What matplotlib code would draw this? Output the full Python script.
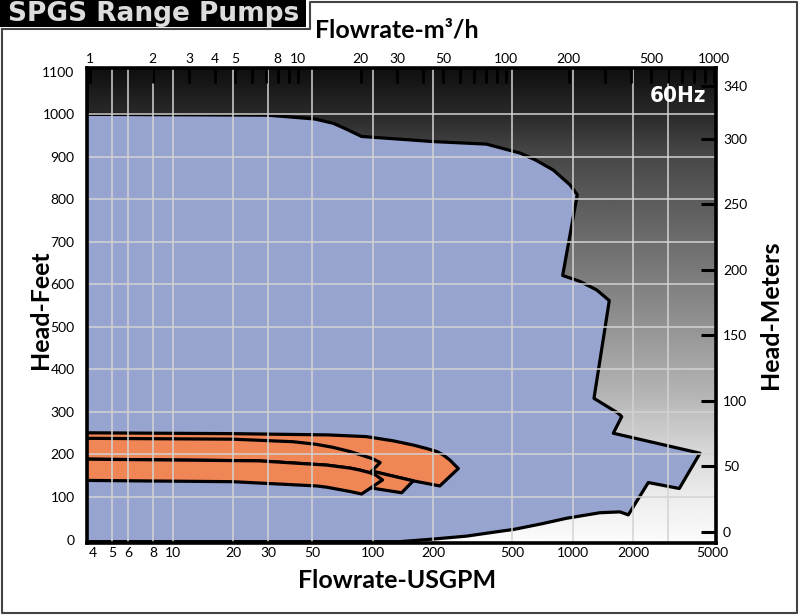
import numpy as np
import matplotlib
matplotlib.use("Agg")
import matplotlib.pyplot as plt
from matplotlib.patches import Polygon, Rectangle
from matplotlib.lines import Line2D

# ---- data (flow in USGPM, head in feet) ----
# operating envelope of the range
range_gpm = [3.7, 30, 51.5, 63.5, 74, 88, 200, 370, 545, 650, 800, 970, 1054,
             891, 1088, 1318, 1524, 1278, 1690, 1758, 1596, 4330, 3412, 2388,
             1897, 1723, 1369, 933, 700, 511, 400, 295, 200, 137, 3.7]
range_ft = [1000, 998, 989, 979, 965, 948, 936, 930, 909, 893, 869, 834, 811,
            621, 607, 587, 562, 332, 297, 289, 250, 203, 120, 134,
            58, 65, 63, 50, 37, 24, 17, 8, 1, -5, -5]

# orange model bands: outline as top edge (left->right) then bottom edge (right->left)
band_a_gpm = [3.7, 20, 60, 93, 127, 160, 186, 209, 225, 243, 268,
              216.6, 159.5, 100.7, 60, 20, 3.7]
band_a_ft = [251, 249, 246, 242, 232, 222, 214, 207, 199, 187, 167,
             126, 138, 160, 175, 185, 190]

band_b_gpm = [3.7, 20, 60, 100.7, 159.5, 139.6, 100.7, 80, 40, 3.7]
band_b_ft = [190, 185, 175, 160, 138, 110, 120.5, 128, 140, 148]

band_c_gpm = [3.7, 20, 40, 52, 63, 77, 90, 100, 109,
              97, 86, 77, 59, 27, 3.7]
band_c_ft = [238, 236, 230, 224, 217, 207, 197, 190, 181,
             157, 163.5, 168, 175, 185, 189]

band_d_gpm = [3.7, 27, 59, 77, 86, 97, 104, 112,
              88, 77, 59, 52.5, 20, 3.7]
band_d_ft = [189, 185, 175, 168, 163.5, 157, 151, 140,
             107, 113, 123, 126, 136, 139]

# axes ticks
gpm_ticks = [4, 5, 6, 8, 10, 20, 30, 50, 100, 200, 500, 1000, 2000, 5000]
gpm_grid = [5, 6, 8, 10, 20, 30, 50, 100, 200, 500, 1000, 2000, 3000]
m3h_ticks = [1, 2, 3, 4, 5, 8, 10, 20, 30, 50, 100, 200, 500, 1000]
ft_ticks = [0, 100, 200, 300, 400, 500, 600, 700, 800, 900, 1000, 1100]
ft_grid = [100, 200, 300, 400, 500, 600, 700, 800, 900, 1000]
m_ticks = [0, 50, 100, 150, 200, 250, 300, 340]

BLUE = "#97a4cf"
ORANGE = "#f08556"
FONT = "Lato"

W, H = 800, 616
fig = plt.figure(figsize=(8, 6.16), dpi=100)
rect = [87 / W, 1 - 543 / H, (716 - 87) / W, (543 - 68) / H]

# gradient background (black at top to white at bottom)
bg = fig.add_axes(rect)
t = np.linspace(0, 1, 300)
shade = np.interp(t, [0, 0.09, 0.196, 0.31, 0.51, 0.72, 0.83, 0.9, 1.0],
                  [0.985, 0.93, 0.84, 0.71, 0.53, 0.36, 0.27, 0.17, 0.06])
bg.imshow(shade[:, None], origin="lower", extent=(0, 1, 0, 1), aspect="auto",
          cmap="gray", vmin=0, vmax=1, interpolation="bilinear")
bg.axis("off")

ax = fig.add_axes(rect)
ax.patch.set_visible(False)
ax.set_xscale("log")
ax.set_xlim(3.73, 5206)
ax.set_ylim(-8.2, 1109)
ax.set_axisbelow(False)

ax.add_patch(Polygon(np.column_stack([range_gpm, range_ft]), closed=True,
                     fc=BLUE, ec="black", lw=2.3, joinstyle="round", zorder=1))
for gx, gy in [(band_a_gpm, band_a_ft), (band_b_gpm, band_b_ft),
               (band_c_gpm, band_c_ft), (band_d_gpm, band_d_ft)]:
    ax.add_patch(Polygon(np.column_stack([gx, gy]), closed=True,
                         fc=ORANGE, ec="black", lw=2.3, joinstyle="round", zorder=1))

ax.xaxis.remove_overlapping_locs = False
ax.yaxis.remove_overlapping_locs = False
ax.set_xticks(gpm_ticks, labels=[str(v) for v in gpm_ticks])
ax.set_xticks(gpm_grid, minor=True)
ax.xaxis.set_minor_formatter(plt.NullFormatter())
ax.set_yticks(ft_ticks, labels=[str(v) for v in ft_ticks])
ax.set_yticks(ft_grid, minor=True)
ax.yaxis.set_minor_formatter(plt.NullFormatter())
ax.grid(which="minor", color="#d3d3d3", lw=1.1)
ax.tick_params(which="both", length=0)
ax.tick_params(axis="x", pad=3, labelsize=10)
ax.tick_params(axis="y", pad=9, labelsize=10)
for lab in ax.get_xticklabels() + ax.get_yticklabels():
    lab.set_family(FONT)
for s in ax.spines.values():
    s.set_linewidth(2.6)
    s.set_zorder(3)

# right axis in meters
ax2 = ax.twinx()
ax2.set_ylim(-8.4, 354)
ax2.set_yticks(m_ticks, labels=[str(v) for v in m_ticks])
ax2.tick_params(direction="in", length=11, width=2.2, pad=5, labelsize=10)
for lab in ax2.get_yticklabels():
    lab.set_family(FONT)
for s in ax2.spines.values():
    s.set_visible(False)

# top axis in m3/h
ax3 = ax.twiny()
ax3.set_xscale("log")
ax3.set_xlim(0.967, 1022)
ax3.set_xticks(m3h_ticks, labels=[str(v) for v in m3h_ticks])
ax3.xaxis.set_minor_locator(matplotlib.ticker.LogLocator(subs=np.arange(2, 10)))
ax3.xaxis.set_minor_formatter(plt.NullFormatter())
ax3.tick_params(which="both", direction="in", length=11, width=2, color="black",
                pad=2, labelsize=10)
for lab in ax3.get_xticklabels():
    lab.set_family(FONT)
for s in ax3.spines.values():
    s.set_visible(False)

ax.text(0.985, 0.94, "60Hz", transform=ax.transAxes, ha="right", va="center",
        color="white", fontsize=16, fontweight="bold", fontstretch="condensed",
        zorder=4, family=["DejaVu Sans"])

# labels
fig.text(397 / W, 1 - 30 / H, "Flowrate-m³/h", ha="center", va="center",
         fontsize=18, fontweight="bold", family=FONT)
fig.text(397 / W, 1 - 580 / H, "Flowrate-USGPM", ha="center", va="center",
         fontsize=18, fontweight="bold", family=FONT)
fig.text(40 / W, 1 - 310 / H, "Head-Feet", ha="center", va="center", rotation=90,
         fontsize=18, fontweight="bold", family=FONT)
fig.text(770 / W, 1 - 315 / H, "Head-Meters", ha="center", va="center", rotation=90,
         fontsize=18, fontweight="bold", family=FONT)

# frame and title box
frame_x = [2 / W, 2 / W, 797 / W, 797 / W, 310 / W, 310 / W, 2 / W]
frame_y = [1 - 29 / H, 1 - 613 / H, 1 - 613 / H, 1 - 2 / H, 1 - 2 / H, 1 - 29 / H, 1 - 29 / H]
fig.add_artist(Line2D(frame_x, frame_y, color="#444444", lw=1.5))
fig.add_artist(Rectangle((0, 1 - 27 / H), 306 / W, 27 / H, fc="black", ec="none"))
fig.text(8 / W, 1 - 14 / H, "SPGS Range Pumps", ha="left", va="center",
         color="#dcdcdc", fontsize=19, fontweight="bold", family="DejaVu Sans")

fig.savefig("out.png", dpi=100)
